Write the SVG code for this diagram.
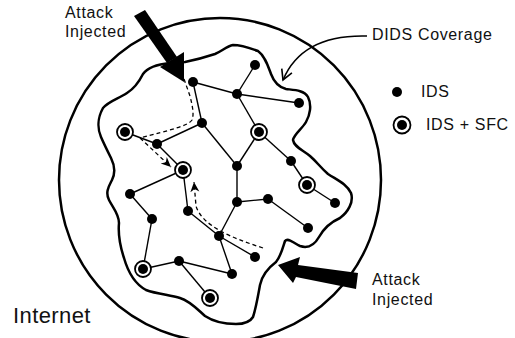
<svg xmlns="http://www.w3.org/2000/svg" width="515" height="338" viewBox="0 0 515 338">
<defs>
<style>
.lbl{font-family:"Liberation Sans",Arial,sans-serif;font-size:16px;letter-spacing:0.65px;fill:#111}
.edge{stroke:#000;stroke-width:1.4;fill:none}
.dot{fill:#000}
.ring{fill:#fff;stroke:#000;stroke-width:1.8}
.dash{stroke:#000;stroke-width:1.3;fill:none;stroke-dasharray:4 3}
</style>
<marker id="dah" markerUnits="userSpaceOnUse" markerWidth="12" markerHeight="12" viewBox="0 0 12 12" refX="10" refY="6" orient="auto">
<path d="M0,1.5 L10,6 L0,10.5 L3,6 Z" fill="#000"/>
</marker>
<marker id="vah" markerUnits="userSpaceOnUse" markerWidth="14" markerHeight="14" viewBox="0 0 14 14" refX="12" refY="7" orient="auto">
<path d="M2,1.5 L12,7 L2,12.5" fill="none" stroke="#000" stroke-width="1.6"/>
</marker>
</defs>
<rect width="515" height="338" fill="#fff"/>

<g id="internet">
<ellipse cx="220" cy="180" rx="161" ry="162" fill="none" stroke="#000" stroke-width="2.5"/>
<text class="lbl" x="13" y="323" style="font-size:22px;letter-spacing:0.4px">Internet</text>
</g>

<g id="coverage">
<path d="M185,62 C195,60 206,57 215,54 C222,51 227,46 233,45 C240,45 250,48 258,51 C265,56 268,66 271,74 C274,82 278,87 286,89 C294,90 304,90 308,97 C312,105 310,115 306,122 C302,129 294,134 293,140 C294,147 303,150 310,156 C316,161 320,167 328,174 C337,180 347,184 351,193 C354,202 348,212 340,218 C331,222 324,228 319,237 C315,244 309,249 300,246 C293,243 288,237 285,241 C283,247 281,256 276,262 C268,268 262,275 260,285 C258,296 256,308 253,317 C250,322 245,324 236,324 C225,324 214,322 205,316 C197,309 190,301 180,298 C170,295 157,294 146,290 C135,284 128,272 124,258 C120,246 118,234 119,223 C119,214 113,208 109,200 C105,192 109,186 112,180 C116,172 114,164 111,158 C107,150 104,144 101,137 C97,128 98,117 103,108 C109,101 118,99 127,93 C135,88 139,82 143,74 C148,67 160,64 170,63 Z" fill="none" stroke="#000" stroke-width="2.5"/>
</g>

<g id="connectors">
<line class="edge" x1="193" y1="82" x2="237" y2="94"/>
<line class="edge" x1="193" y1="82" x2="202" y2="123"/>
<line class="edge" x1="237" y1="94" x2="255" y2="65"/>
<line class="edge" x1="237" y1="94" x2="299" y2="103"/>
<line class="edge" x1="237" y1="94" x2="259" y2="132"/>
<line class="edge" x1="202" y1="123" x2="157" y2="144"/>
<line class="edge" x1="202" y1="123" x2="237" y2="166"/>
<line class="edge" x1="157" y1="144" x2="125" y2="132"/>
<line class="edge" x1="157" y1="144" x2="183" y2="170"/>
<line class="edge" x1="259" y1="132" x2="237" y2="166"/>
<line class="edge" x1="259" y1="132" x2="291" y2="161"/>
<line class="edge" x1="291" y1="161" x2="307" y2="185"/>
<line class="edge" x1="307" y1="185" x2="335" y2="203"/>
<line class="edge" x1="237" y1="166" x2="237" y2="202"/>
<line class="edge" x1="237" y1="202" x2="268" y2="199"/>
<line class="edge" x1="268" y1="199" x2="308" y2="228"/>
<line class="edge" x1="237" y1="202" x2="219" y2="236"/>
<line class="edge" x1="219" y1="236" x2="188" y2="211"/>
<line class="edge" x1="188" y1="211" x2="183" y2="170"/>
<line class="edge" x1="219" y1="236" x2="255" y2="257"/>
<line class="edge" x1="219" y1="236" x2="232" y2="274"/>
<line class="edge" x1="232" y1="274" x2="179" y2="261"/>
<line class="edge" x1="179" y1="261" x2="143" y2="269"/>
<line class="edge" x1="179" y1="261" x2="210" y2="298"/>
<line class="edge" x1="143" y1="269" x2="152" y2="219"/>
<line class="edge" x1="152" y1="219" x2="130" y2="194"/>
<line class="edge" x1="130" y1="194" x2="183" y2="170"/>

<path class="dash" d="M184,79 L190,96 C193,108 194,115 192,120 C188,126 170,130 140,138 L171,167" marker-end="url(#dah)"/>
<path class="dash" d="M263,248 C232,238 202,226 196,206 L194,182" marker-end="url(#dah)"/>
<path d="M367,36 C332,35 298,44 283,80" fill="none" stroke="#000" stroke-width="1.6" marker-end="url(#vah)"/>
</g>

<g id="nodes">
<circle class="dot" cx="193" cy="82" r="5"/>
<circle class="dot" cx="237" cy="94" r="5"/>
<circle class="dot" cx="255" cy="65" r="5"/>
<circle class="dot" cx="299" cy="103" r="5"/>
<circle class="dot" cx="202" cy="123" r="5"/>
<circle class="dot" cx="157" cy="144" r="5"/>
<circle class="dot" cx="237" cy="166" r="5"/>
<circle class="dot" cx="291" cy="161" r="5"/>
<circle class="dot" cx="130" cy="194" r="5"/>
<circle class="dot" cx="152" cy="219" r="5"/>
<circle class="dot" cx="188" cy="211" r="5"/>
<circle class="dot" cx="237" cy="202" r="5"/>
<circle class="dot" cx="268" cy="199" r="5"/>
<circle class="dot" cx="308" cy="228" r="5"/>
<circle class="dot" cx="335" cy="203" r="5"/>
<circle class="dot" cx="219" cy="236" r="5"/>
<circle class="dot" cx="255" cy="257" r="5"/>
<circle class="dot" cx="232" cy="274" r="5"/>
<circle class="dot" cx="179" cy="261" r="5"/>
</g>

<g id="sfc-nodes">
<g id="sfc1"><circle class="ring" cx="125" cy="132" r="8"/><circle class="dot" cx="125" cy="132" r="5"/></g>
<g id="sfc2"><circle class="ring" cx="183" cy="170" r="8"/><circle class="dot" cx="183" cy="170" r="5"/></g>
<g id="sfc3"><circle class="ring" cx="259" cy="132" r="8"/><circle class="dot" cx="259" cy="132" r="5"/></g>
<g id="sfc4"><circle class="ring" cx="307" cy="185" r="8"/><circle class="dot" cx="307" cy="185" r="5"/></g>
<g id="sfc5"><circle class="ring" cx="143" cy="269" r="8"/><circle class="dot" cx="143" cy="269" r="5"/></g>
<g id="sfc6"><circle class="ring" cx="210" cy="298" r="8"/><circle class="dot" cx="210" cy="298" r="5"/></g>
</g>

<g id="attack-top">
<polygon points="134,16 145,10 177,57 167,63" fill="#000"/>
<polygon points="160,67 184,52 184,82" fill="#000"/>
<text class="lbl" x="65" y="18">Attack</text>
<text class="lbl" x="65" y="37">Injected</text>
</g>

<g id="attack-bottom">
<polygon points="278,265 300,257 298,265 358,273 356,289 296,277 293,283" fill="#000"/>
<text class="lbl" x="372" y="285">Attack</text>
<text class="lbl" x="372" y="305">Injected</text>
</g>

<g id="dids-label">
<text class="lbl" x="372" y="40">DIDS Coverage</text>
</g>

<g id="legend">
<circle class="dot" cx="397" cy="92" r="5"/>
<text class="lbl" x="421" y="97">IDS</text>
<circle class="ring" cx="402" cy="125" r="8.5"/>
<circle class="dot" cx="402" cy="125" r="5"/>
<text class="lbl" x="426" y="130">IDS + SFC</text>
</g>
</svg>
